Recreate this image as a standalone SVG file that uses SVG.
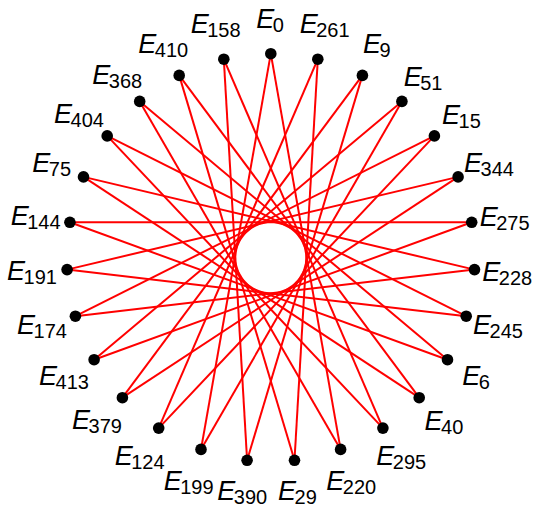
<svg xmlns="http://www.w3.org/2000/svg" width="535" height="508" viewBox="0 0 535 508">
<style>
.edge{stroke:#ff0000;stroke-width:2;fill:none}
.dot{fill:#000}
.lbl{font-family:"Liberation Sans",Arial,sans-serif;fill:#000}
.e{font-size:27px;font-style:italic}
.s{font-size:20px}
</style>
<rect width="535" height="508" fill="#fff"/>
<g id="connectors">
<line class="edge" x1="270.8" y1="53.7" x2="340.6" y2="449.4"/>
<line class="edge" x1="317.8" y1="59.2" x2="294.5" y2="460.3"/>
<line class="edge" x1="362.4" y1="75.4" x2="247.1" y2="460.3"/>
<line class="edge" x1="401.9" y1="101.4" x2="201.0" y2="449.4"/>
<line class="edge" x1="434.4" y1="135.9" x2="158.7" y2="428.1"/>
<line class="edge" x1="458.1" y1="176.9" x2="122.4" y2="397.7"/>
<line class="edge" x1="471.7" y1="222.3" x2="94.1" y2="359.7"/>
<line class="edge" x1="474.5" y1="269.6" x2="75.4" y2="316.2"/>
<line class="edge" x1="466.2" y1="316.2" x2="67.1" y2="269.6"/>
<line class="edge" x1="447.5" y1="359.7" x2="69.9" y2="222.3"/>
<line class="edge" x1="419.2" y1="397.7" x2="83.5" y2="176.9"/>
<line class="edge" x1="382.9" y1="428.1" x2="107.2" y2="135.9"/>
<line class="edge" x1="340.6" y1="449.4" x2="139.7" y2="101.4"/>
<line class="edge" x1="294.5" y1="460.3" x2="179.2" y2="75.4"/>
<line class="edge" x1="247.1" y1="460.3" x2="223.8" y2="59.2"/>
<line class="edge" x1="201.0" y1="449.4" x2="270.8" y2="53.7"/>
<line class="edge" x1="158.7" y1="428.1" x2="317.8" y2="59.2"/>
<line class="edge" x1="122.4" y1="397.7" x2="362.4" y2="75.4"/>
<line class="edge" x1="94.1" y1="359.7" x2="401.9" y2="101.4"/>
<line class="edge" x1="75.4" y1="316.2" x2="434.4" y2="135.9"/>
<line class="edge" x1="67.1" y1="269.6" x2="458.1" y2="176.9"/>
<line class="edge" x1="69.9" y1="222.3" x2="471.7" y2="222.3"/>
<line class="edge" x1="83.5" y1="176.9" x2="474.5" y2="269.6"/>
<line class="edge" x1="107.2" y1="135.9" x2="466.2" y2="316.2"/>
<line class="edge" x1="139.7" y1="101.4" x2="447.5" y2="359.7"/>
<line class="edge" x1="179.2" y1="75.4" x2="419.2" y2="397.7"/>
<line class="edge" x1="223.8" y1="59.2" x2="382.9" y2="428.1"/>
</g>
<g id="E0"><circle class="dot" cx="270.8" cy="53.7" r="5.8"/><text class="lbl" x="256.3" y="28.3"><tspan class="e">E</tspan><tspan class="s" dx="-1.5" dy="4">0</tspan></text></g>
<g id="E261"><circle class="dot" cx="317.8" cy="59.2" r="5.8"/><text class="lbl" x="299.7" y="33.3"><tspan class="e">E</tspan><tspan class="s" dx="-1.5" dy="4">261</tspan></text></g>
<g id="E9"><circle class="dot" cx="362.4" cy="75.4" r="5.8"/><text class="lbl" x="363" y="53.3"><tspan class="e">E</tspan><tspan class="s" dx="-1.5" dy="4">9</tspan></text></g>
<g id="E51"><circle class="dot" cx="401.9" cy="101.4" r="5.8"/><text class="lbl" x="403.7" y="86"><tspan class="e">E</tspan><tspan class="s" dx="-1.5" dy="4">51</tspan></text></g>
<g id="E15"><circle class="dot" cx="434.4" cy="135.9" r="5.8"/><text class="lbl" x="442" y="124"><tspan class="e">E</tspan><tspan class="s" dx="-1.5" dy="4">15</tspan></text></g>
<g id="E344"><circle class="dot" cx="458.1" cy="176.9" r="5.8"/><text class="lbl" x="464" y="172.3"><tspan class="e">E</tspan><tspan class="s" dx="-1.5" dy="4">344</tspan></text></g>
<g id="E275"><circle class="dot" cx="471.7" cy="222.3" r="5.8"/><text class="lbl" x="479.7" y="225.7"><tspan class="e">E</tspan><tspan class="s" dx="-1.5" dy="4">275</tspan></text></g>
<g id="E228"><circle class="dot" cx="474.5" cy="269.6" r="5.8"/><text class="lbl" x="482.3" y="280.7"><tspan class="e">E</tspan><tspan class="s" dx="-1.5" dy="4">228</tspan></text></g>
<g id="E245"><circle class="dot" cx="466.2" cy="316.2" r="5.8"/><text class="lbl" x="473" y="334"><tspan class="e">E</tspan><tspan class="s" dx="-1.5" dy="4">245</tspan></text></g>
<g id="E6"><circle class="dot" cx="447.5" cy="359.7" r="5.8"/><text class="lbl" x="462.3" y="385"><tspan class="e">E</tspan><tspan class="s" dx="-1.5" dy="4">6</tspan></text></g>
<g id="E40"><circle class="dot" cx="419.2" cy="397.7" r="5.8"/><text class="lbl" x="424.5" y="429.7"><tspan class="e">E</tspan><tspan class="s" dx="-1.5" dy="4">40</tspan></text></g>
<g id="E295"><circle class="dot" cx="382.9" cy="428.1" r="5.8"/><text class="lbl" x="376.3" y="465"><tspan class="e">E</tspan><tspan class="s" dx="-1.5" dy="4">295</tspan></text></g>
<g id="E220"><circle class="dot" cx="340.6" cy="449.4" r="5.8"/><text class="lbl" x="326.3" y="490"><tspan class="e">E</tspan><tspan class="s" dx="-1.5" dy="4">220</tspan></text></g>
<g id="E29"><circle class="dot" cx="294.5" cy="460.3" r="5.8"/><text class="lbl" x="278" y="500"><tspan class="e">E</tspan><tspan class="s" dx="-1.5" dy="4">29</tspan></text></g>
<g id="E390"><circle class="dot" cx="247.1" cy="460.3" r="5.8"/><text class="lbl" x="217.3" y="500"><tspan class="e">E</tspan><tspan class="s" dx="-1.5" dy="4">390</tspan></text></g>
<g id="E199"><circle class="dot" cx="201.0" cy="449.4" r="5.8"/><text class="lbl" x="163.7" y="490"><tspan class="e">E</tspan><tspan class="s" dx="-1.5" dy="4">199</tspan></text></g>
<g id="E124"><circle class="dot" cx="158.7" cy="428.1" r="5.8"/><text class="lbl" x="114.7" y="465"><tspan class="e">E</tspan><tspan class="s" dx="-1.5" dy="4">124</tspan></text></g>
<g id="E379"><circle class="dot" cx="122.4" cy="397.7" r="5.8"/><text class="lbl" x="72" y="429.3"><tspan class="e">E</tspan><tspan class="s" dx="-1.5" dy="4">379</tspan></text></g>
<g id="E413"><circle class="dot" cx="94.1" cy="359.7" r="5.8"/><text class="lbl" x="39" y="385"><tspan class="e">E</tspan><tspan class="s" dx="-1.5" dy="4">413</tspan></text></g>
<g id="E174"><circle class="dot" cx="75.4" cy="316.2" r="5.8"/><text class="lbl" x="17" y="334"><tspan class="e">E</tspan><tspan class="s" dx="-1.5" dy="4">174</tspan></text></g>
<g id="E191"><circle class="dot" cx="67.1" cy="269.6" r="5.8"/><text class="lbl" x="7" y="280"><tspan class="e">E</tspan><tspan class="s" dx="-1.5" dy="4">191</tspan></text></g>
<g id="E144"><circle class="dot" cx="69.9" cy="222.3" r="5.8"/><text class="lbl" x="10.7" y="225"><tspan class="e">E</tspan><tspan class="s" dx="-1.5" dy="4">144</tspan></text></g>
<g id="E75"><circle class="dot" cx="83.5" cy="176.9" r="5.8"/><text class="lbl" x="32.3" y="172.3"><tspan class="e">E</tspan><tspan class="s" dx="-1.5" dy="4">75</tspan></text></g>
<g id="E404"><circle class="dot" cx="107.2" cy="135.9" r="5.8"/><text class="lbl" x="54" y="123.3"><tspan class="e">E</tspan><tspan class="s" dx="-1.5" dy="4">404</tspan></text></g>
<g id="E368"><circle class="dot" cx="139.7" cy="101.4" r="5.8"/><text class="lbl" x="92.3" y="84.3"><tspan class="e">E</tspan><tspan class="s" dx="-1.5" dy="4">368</tspan></text></g>
<g id="E410"><circle class="dot" cx="179.2" cy="75.4" r="5.8"/><text class="lbl" x="138.3" y="53"><tspan class="e">E</tspan><tspan class="s" dx="-1.5" dy="4">410</tspan></text></g>
<g id="E158"><circle class="dot" cx="223.8" cy="59.2" r="5.8"/><text class="lbl" x="190.7" y="33.3"><tspan class="e">E</tspan><tspan class="s" dx="-1.5" dy="4">158</tspan></text></g>
</svg>
